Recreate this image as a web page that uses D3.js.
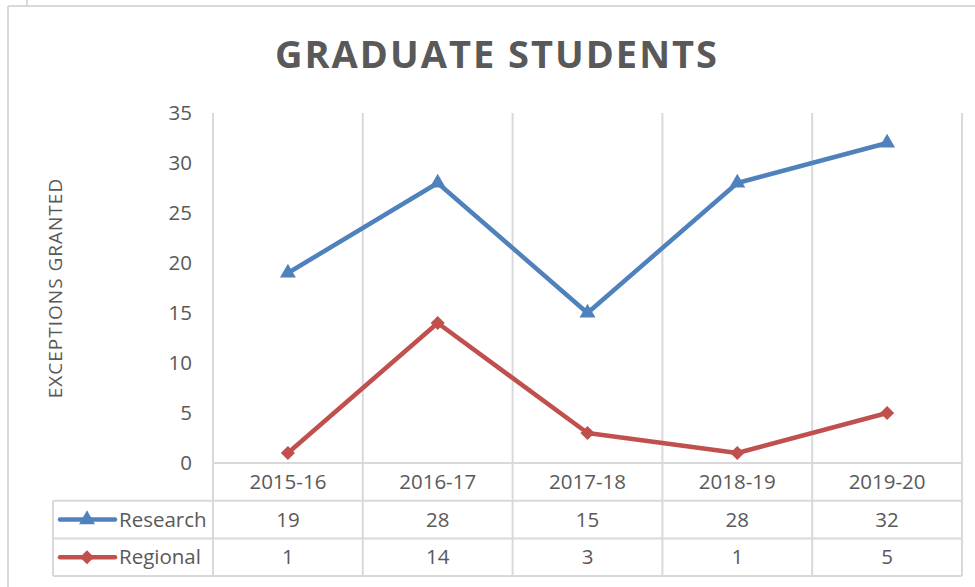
<!DOCTYPE html>
<html>
<head>
<meta charset="utf-8">
<script src="https://cdn.jsdelivr.net/npm/d3@7"></script>
<style>
  body { margin: 0; background: #fff; }
  svg { display: block; font-family: "Open Sans", sans-serif; }
</style>
</head>
<body>
<svg id="chart" width="975" height="587"></svg>
<script>
var categories = ["2015-16", "2016-17", "2017-18", "2018-19", "2019-20"];
var research = [19, 28, 15, 28, 32];
var regional = [1, 14, 3, 1, 5];
var yTicks = [0, 5, 10, 15, 20, 25, 30, 35];
var seriesNames = ["Research", "Regional"];

var textColor = "#595959";
var gridColor = "#d9d9d9";
var blue = "#4f81bd";
var red = "#c0504d";

var svg = d3.select("#chart");

// outer frame bits
svg.append("line").attr("x1", 8).attr("x2", 975).attr("y1", 6).attr("y2", 6)
    .style("stroke", gridColor).style("stroke-width", 2);
svg.append("line").attr("x1", 8).attr("x2", 8).attr("y1", 6).attr("y2", 587)
    .style("stroke", gridColor).style("stroke-width", 2);
svg.append("line").attr("x1", 27).attr("x2", 27).attr("y1", 0).attr("y2", 6)
    .style("stroke", gridColor).style("stroke-width", 2);

var x = d3.scaleBand().domain(categories).range([213, 962]).padding(0);
var y = d3.scaleLinear().domain([0, 35]).range([463, 113]);

var rowTop = 463, rowH = 37.7;
var tableLeft = 53;

// title
svg.append("text")
    .attr("x", 497).attr("y", 68)
    .attr("text-anchor", "middle")
    .attr("font-size", "38px")
    .attr("font-weight", "bold")
    .attr("letter-spacing", "2px")
    .style("fill", textColor)
    .text("GRADUATE STUDENTS");

// y axis title
svg.append("text")
    .attr("transform", "translate(62,288) rotate(-90)")
    .attr("text-anchor", "middle")
    .attr("font-size", "19px")
    .attr("letter-spacing", "1px")
    .style("fill", textColor)
    .text("EXCEPTIONS GRANTED");

// vertical grid lines (category borders), down through the table
var edges = categories.map(function (d) { return x(d); }).concat([x.range()[1]]);
svg.append("g").selectAll("line").data(edges).enter()
    .append("line")
    .attr("x1", function (d) { return d; })
    .attr("x2", function (d) { return d; })
    .attr("y1", y(35))
    .attr("y2", rowTop + rowH * 3)
    .style("stroke", gridColor)
    .style("stroke-width", 2);

// horizontal table lines
var hLines = [
    { y: rowTop, x1: x.range()[0] },
    { y: rowTop + rowH, x1: tableLeft },
    { y: rowTop + rowH * 2, x1: tableLeft },
    { y: rowTop + rowH * 3, x1: tableLeft }
];
svg.append("g").selectAll("line").data(hLines).enter()
    .append("line")
    .attr("x1", function (d) { return d.x1; })
    .attr("x2", x.range()[1])
    .attr("y1", function (d) { return d.y; })
    .attr("y2", function (d) { return d.y; })
    .style("stroke", gridColor)
    .style("stroke-width", 2);
svg.append("line")
    .attr("x1", tableLeft).attr("x2", tableLeft)
    .attr("y1", rowTop + rowH).attr("y2", rowTop + rowH * 3)
    .style("stroke", gridColor).style("stroke-width", 2);

// y axis labels
var yAxis = d3.axisLeft(y).tickValues(yTicks).tickSize(0).tickPadding(0);
var gy = svg.append("g").attr("transform", "translate(192,0)").call(yAxis);
gy.select(".domain").remove();
gy.selectAll("text")
    .attr("font-size", "20.5px")
    .attr("font-family", "Open Sans")
    .style("fill", textColor);

// category labels (first table row)
svg.append("g").selectAll("text").data(categories).enter()
    .append("text")
    .attr("x", function (d) { return x(d) + x.bandwidth() / 2; })
    .attr("y", rowTop + rowH / 2)
    .attr("dy", "0.35em")
    .attr("text-anchor", "middle")
    .attr("font-size", "20.5px")
    .style("fill", textColor)
    .text(function (d) { return d; });

var series = [
    { name: seriesNames[0], values: research, color: blue, symbol: d3.symbolTriangle, size: 110, rot: 0 },
    { name: seriesNames[1], values: regional, color: red, symbol: d3.symbolSquare, size: 100, rot: 45 }
];

var line = d3.line()
    .x(function (d, i) { return x(categories[i]) + x.bandwidth() / 2; })
    .y(function (d) { return y(d); });

series.forEach(function (s, k) {
    svg.append("path")
        .datum(s.values)
        .attr("d", line)
        .style("fill", "none")
        .style("stroke", s.color)
        .style("stroke-width", 4.5)
        .style("stroke-linejoin", "round");

    svg.append("g").selectAll("path").data(s.values).enter()
        .append("path")
        .attr("transform", function (d, i) {
            return "translate(" + (x(categories[i]) + x.bandwidth() / 2) + "," + y(d) + ") rotate(" + s.rot + ")";
        })
        .attr("d", d3.symbol().type(s.symbol).size(s.size))
        .style("fill", s.color);

    var rowY = rowTop + rowH * (k + 1) + rowH / 2;

    // legend key in table
    svg.append("line")
        .attr("x1", 60).attr("x2", 115)
        .attr("y1", rowY).attr("y2", rowY)
        .style("stroke", s.color)
        .style("stroke-width", 4.5)
        .style("stroke-linecap", "round");
    svg.append("path")
        .attr("transform", "translate(87," + rowY + ") rotate(" + s.rot + ")")
        .attr("d", d3.symbol().type(s.symbol).size(s.size))
        .style("fill", s.color);
    svg.append("text")
        .attr("x", 119).attr("y", rowY)
        .attr("dy", "0.35em")
        .attr("font-size", "20.5px")
        .style("fill", textColor)
        .text(s.name);

    svg.append("g").selectAll("text").data(s.values).enter()
        .append("text")
        .attr("x", function (d, i) { return x(categories[i]) + x.bandwidth() / 2; })
        .attr("y", rowY)
        .attr("dy", "0.35em")
        .attr("text-anchor", "middle")
        .attr("font-size", "20.5px")
        .style("fill", textColor)
        .text(function (d) { return d; });
});
</script>
</body>
</html>
